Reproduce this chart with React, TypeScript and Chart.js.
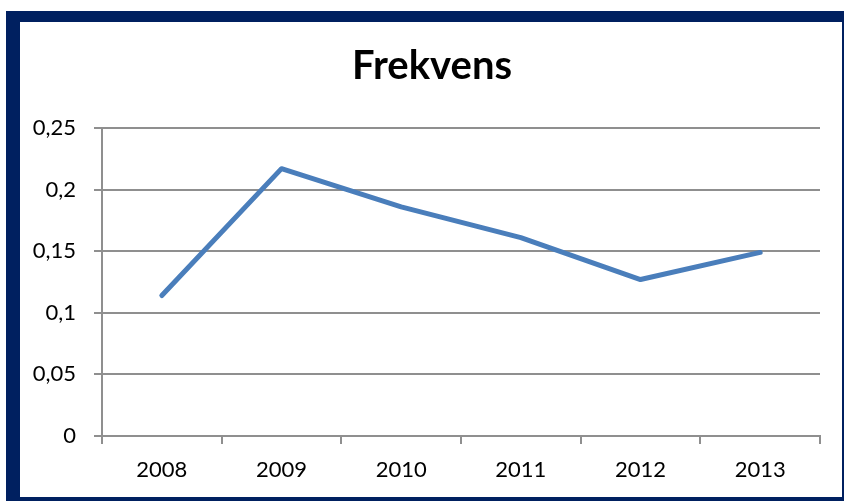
import React, { useEffect, useRef } from "react";
import { Chart, registerables } from "chart.js";

Chart.register(...registerables);

const chartTitle = "Frekvens";
const categories = ["2008", "2009", "2010", "2011", "2012", "2013"];
const frekvens = [0.114, 0.217, 0.186, 0.161, 0.127, 0.149];
const yTickLabels: Record<string, string> = {
  "0": "0",
  "0.05": "0,05",
  "0.1": "0,1",
  "0.15": "0,15",
  "0.2": "0,2",
  "0.25": "0,25",
};

const NAVY = "#002060";
const GRID = "#8f8f8f";
const FONT = "Lato, 'Open Sans', sans-serif";

export default function App() {
  const canvasRef = useRef<HTMLCanvasElement | null>(null);

  useEffect(() => {
    document.body.style.margin = "0";
    const canvas = canvasRef.current;
    if (!canvas) return;
    const chart = new Chart(canvas, {
      type: "line",
      data: {
        labels: categories,
        datasets: [
          {
            label: chartTitle,
            data: frekvens,
            borderColor: "#4A7EBB",
            backgroundColor: "#4A7EBB",
            borderWidth: 5,
            borderCapStyle: "round",
            borderJoinStyle: "round",
            pointRadius: 0,
            tension: 0,
            yAxisID: "y",
          },
        ],
      },
      options: {
        responsive: false,
        animation: false,
        devicePixelRatio: 1,
        layout: { padding: { left: 20, right: 0, top: 0, bottom: 0 } },
        plugins: {
          legend: { display: false },
          tooltip: { enabled: false },
          title: {
            display: true,
            text: chartTitle,
            color: "#000000",
            font: { family: FONT, size: 40, weight: "bold", lineHeight: 1 },
            padding: { top: 46, bottom: 42 },
          },
        },
        scales: {
          x: {
            offset: true,
            grid: {
              offset: true,
              drawOnChartArea: false,
              drawTicks: true,
              tickLength: 8,
              color: GRID,
              lineWidth: 2,
            },
            border: { display: true, color: GRID, width: 2 },
            ticks: {
              color: "#000000",
              font: { family: FONT, size: 22 },
              padding: 13,
              maxRotation: 0,
            },
            afterFit: (scale: any) => {
              scale.height = 65;
            },
          },
          y: {
            position: "left",
            min: 0,
            max: 0.25,
            grid: {
              drawTicks: true,
              tickLength: 8,
              color: GRID,
              lineWidth: 2,
            },
            border: { display: true, color: GRID, width: 2 },
            ticks: {
              stepSize: 0.05,
              color: "#000000",
              font: { family: FONT, size: 22 },
              padding: 18,
              callback: (value: any) => {
                const key = String(Math.round(Number(value) * 100) / 100);
                return yTickLabels[key] ?? key;
              },
            },
            afterFit: (scale: any) => {
              scale.width = 82;
            },
          },
          yRight: {
            position: "right",
            min: 0,
            max: 0.25,
            grid: { display: false, drawOnChartArea: false, drawTicks: false },
            border: { display: false },
            ticks: { display: false },
            afterFit: (scale: any) => {
              scale.width = 24;
            },
          },
        },
      },
    });
    return () => chart.destroy();
  }, []);

  return (
    <div
      style={{
        position: "relative",
        width: 844,
        height: 501,
        background: "#ffffff",
        overflow: "hidden",
      }}
    >
      <div
        style={{
          position: "absolute",
          left: 6,
          top: 11,
          width: 822,
          height: 475,
          borderLeft: `14px solid ${NAVY}`,
          borderTop: `11px solid ${NAVY}`,
          borderRight: `2px solid ${NAVY}`,
          borderBottom: `5px solid ${NAVY}`,
          background: "#ffffff",
        }}
      />
      <canvas
        ref={canvasRef}
        width={844}
        height={501}
        style={{ position: "absolute", left: 0, top: 0, width: 844, height: 501 }}
      />
    </div>
  );
}
